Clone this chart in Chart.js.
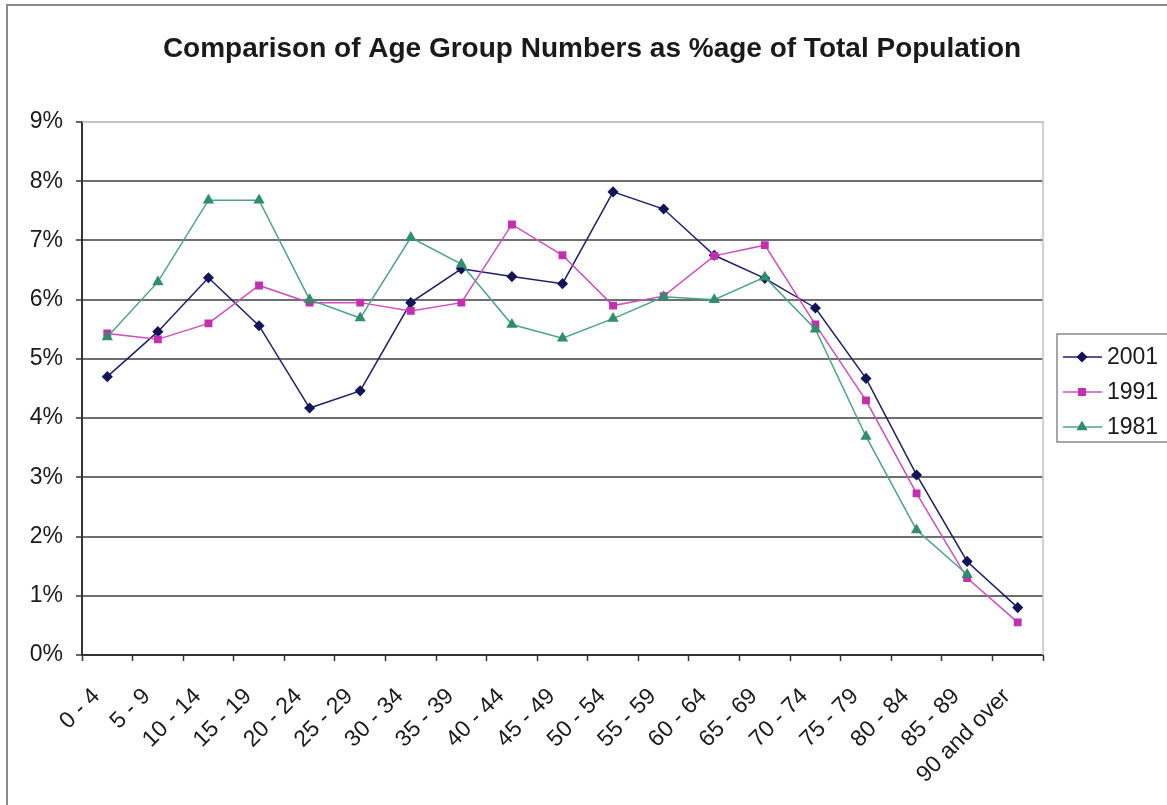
<!DOCTYPE html>
<html>
<head>
<meta charset="utf-8">
<script src="https://cdn.jsdelivr.net/npm/chart.js@4.4.1/dist/chart.umd.min.js"></script>
<style>
  html, body { margin: 0; padding: 0; background: #fff; overflow: hidden; }
  #wrap { width: 1167px; height: 805px; }
</style>
</head>
<body>
<div id="wrap"><canvas id="myChart" width="1167" height="805"></canvas></div>
<script>
// categories
var ageGroups = ["0 - 4", "5 - 9", "10 - 14", "15 - 19", "20 - 24", "25 - 29", "30 - 34", "35 - 39",
    "40 - 44", "45 - 49", "50 - 54", "55 - 59", "60 - 64", "65 - 69", "70 - 74", "75 - 79",
    "80 - 84", "85 - 89", "90 and over"];

// series values (% of total population)
var pct2001 = [4.70, 5.46, 6.37, 5.56, 4.17, 4.46, 5.95, 6.52, 6.39, 6.27, 7.82, 7.53, 6.75, 6.36, 5.86, 4.67, 3.04, 1.58, 0.80];
var pct1991 = [5.43, 5.33, 5.60, 6.24, 5.95, 5.95, 5.81, 5.95, 7.27, 6.75, 5.90, 6.06, 6.74, 6.92, 5.58, 4.30, 2.73, 1.30, 0.55];
var pct1981 = [5.37, 6.30, 7.68, 7.68, 6.00, 5.69, 7.05, 6.60, 5.58, 5.35, 5.68, 6.05, 6.00, 6.38, 5.50, 3.69, 2.11, 1.36, null];

var seriesNames = ["2001", "1991", "1981"];
var yTicks = [0, 1, 2, 3, 4, 5, 6, 7, 8, 9];

var chartTitle = "Comparison of Age Group Numbers as %age of Total Population";
var FONT = "'Liberation Sans', Arial, sans-serif";

// frame, plot border, title and legend box
var excelLook = {
    id: "excelLook",
    beforeDatasetsDraw: function (chart) {
        var c = chart.ctx, a = chart.chartArea;
        c.save();
        c.strokeStyle = "#c4c4c4";
        c.lineWidth = 1.5;
        c.beginPath();
        c.moveTo(a.left, a.top);
        c.lineTo(a.right, a.top);
        c.lineTo(a.right, a.bottom);
        c.stroke();
        c.restore();
    },
    afterDraw: function (chart) {
        var c = chart.ctx;
        c.save();
        // outer chart frame
        c.strokeStyle = "#8a8a8a";
        c.lineWidth = 2;
        c.beginPath();
        c.moveTo(7, 805);
        c.lineTo(7, 5);
        c.lineTo(1167, 5);
        c.stroke();

        // title
        c.fillStyle = "#1a1a1a";
        c.font = "bold 28px " + FONT;
        c.textAlign = "center";
        c.textBaseline = "middle";
        c.fillText(chartTitle, 592, 49);

        // legend
        c.strokeStyle = "#8a8a8a";
        c.lineWidth = 1.5;
        c.strokeRect(1057, 334, 130, 108);
        c.font = "23px " + FONT;
        c.textAlign = "left";
        var rowY = [357, 392, 427];
        chart.data.datasets.forEach(function (ds, i) {
            var y = rowY[i];
            c.strokeStyle = ds.borderColor;
            c.lineWidth = 1.5;
            c.beginPath();
            c.moveTo(1063, y);
            c.lineTo(1102, y);
            c.stroke();
            c.fillStyle = ds.pointBackgroundColor;
            c.strokeStyle = ds.pointBorderColor;
            Chart.helpers.drawPoint(c, {pointStyle: ds.pointStyle, radius: ds.pointRadius, borderWidth: 1, rotation: 0}, 1082, y);
            c.fillStyle = "#1a1a1a";
            c.fillText(ds.label, 1107, y + 1);
        });
        c.restore();
    }
};

var ctx = document.getElementById("myChart");

var chart = new Chart(ctx, {
    type: "line",
    data: {
        labels: ageGroups,
        datasets: [{
            label: seriesNames[0],
            data: pct2001,
            borderColor: "#1e1e6e",
            backgroundColor: "#1e1e6e",
            pointBackgroundColor: "#14145a",
            pointBorderColor: "#14145a",
            pointStyle: "rectRot",
            pointRadius: 4.5,
            borderWidth: 1.5,
            order: 2
        }, {
            label: seriesNames[1],
            data: pct1991,
            borderColor: "#d24cbe",
            backgroundColor: "#c42fb0",
            pointBackgroundColor: "#c42fb0",
            pointBorderColor: "#c42fb0",
            pointStyle: "rect",
            pointRadius: 4.5,
            borderWidth: 1.5,
            order: 1
        }, {
            label: seriesNames[2],
            data: pct1981,
            borderColor: "#4aa488",
            backgroundColor: "#2f8f6a",
            pointBackgroundColor: "#2f8f6a",
            pointBorderColor: "#2f8f6a",
            pointStyle: "triangle",
            pointRadius: 5,
            borderWidth: 1.5,
            order: 0
        }]
    },
    options: {
        responsive: false,
        animation: false,
        devicePixelRatio: 1,
        layout: {
            padding: { top: 122, right: 124, left: 0, bottom: 0 }
        },
        plugins: {
            legend: { display: false },
            title: { display: false },
            tooltip: { enabled: false }
        },
        elements: {
            line: { tension: 0 }
        },
        scales: {
            x: {
                offset: true,
                grid: {
                    offset: true,
                    drawOnChartArea: false,
                    drawTicks: true,
                    tickLength: 6,
                    tickColor: "#333",
                    tickWidth: 1.5
                },
                border: { color: "#333", width: 2 },
                ticks: {
                    autoSkip: false,
                    minRotation: 45,
                    maxRotation: 45,
                    labelOffset: -11,
                    padding: 22,
                    color: "#1a1a1a",
                    font: { family: FONT, size: 23 }
                },
                afterFit: function (scale) { scale.height = 150; }
            },
            y: {
                min: 0,
                max: 9,
                afterBuildTicks: function (scale) {
                    scale.ticks = yTicks.map(function (v) { return { value: v }; });
                },
                grid: {
                    color: function (c) {
                        if (c.tick.value === 9) return "#c4c4c4";
                        return "#6e6e6e";
                    },
                    lineWidth: 2,
                    tickLength: 6,
                    tickColor: "#333",
                    tickWidth: 1.5
                },
                border: { color: "#333", width: 2 },
                ticks: {
                    padding: 13,
                    color: "#1a1a1a",
                    font: { family: FONT, size: 23 },
                    callback: function (v) { return v + "%"; }
                },
                afterFit: function (scale) { scale.width = 82; }
            }
        }
    },
    plugins: [excelLook]
});
</script>
</body>
</html>
